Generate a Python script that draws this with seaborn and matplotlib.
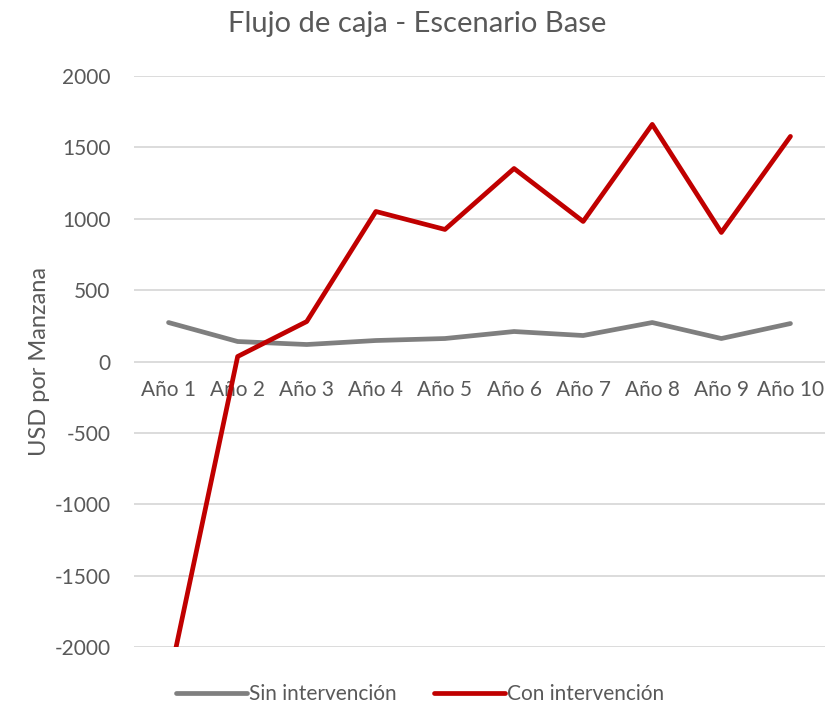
import pandas as pd
import matplotlib.pyplot as plt
import seaborn as sns

# datos
anios = ["Año 1", "Año 2", "Año 3", "Año 4", "Año 5", "Año 6", "Año 7", "Año 8", "Año 9", "Año 10"]
sin_intervencion = [273, 140, 119, 147, 161, 210, 182, 273, 161, 266]
con_intervencion = [-2250, 35, 280, 1051, 925, 1352, 981, 1661, 904, 1577]
series = ["Sin intervención", "Con intervención"]
colores = ["#7F7F7F", "#C00000"]
yticks = [-2000, -1500, -1000, -500, 0, 500, 1000, 1500, 2000]

df = pd.DataFrame({
    "Año": anios * 2,
    "pos": list(range(len(anios))) * 2,
    "valor": sin_intervencion + con_intervencion,
    "serie": [series[0]] * len(anios) + [series[1]] * len(anios),
})

sns.set_style("white")
plt.rcParams['font.family'] = ['Lato', 'DejaVu Sans']

fig = plt.figure(figsize=(8.26, 7.05), dpi=100)
ax = fig.add_axes([134 / 826, 1 - 647 / 705, 691 / 826, 571 / 705])

sns.lineplot(data=df, x="pos", y="valor", hue="serie", palette=colores,
             linewidth=3.4, ax=ax, legend=True)

ax.set_xlim(-0.5, len(anios) - 0.5)
ax.set_ylim(-2000, 2000)
ax.set_yticks(yticks)
ax.set_yticklabels([str(v) for v in yticks])
ax.set_xticks(range(len(anios)))
ax.set_xticklabels(anios)
ax.yaxis.grid(True, color="#D9D9D9", linewidth=1.3)
ax.set_axisbelow(True)
for s in ["top", "right", "left"]:
    ax.spines[s].set_visible(False)
ax.spines["bottom"].set_position(("data", 0))
ax.spines["bottom"].set_visible(False)
ax.tick_params(axis="x", length=0, pad=13, labelsize=15, labelcolor="#595959")
ax.tick_params(axis="y", length=0, pad=17, labelsize=15, labelcolor="#595959")
ax.set_xlabel("")
ax.set_ylabel("USD por Manzana", fontsize=17, color="#595959", labelpad=3)

fig.suptitle("Flujo de caja - Escenario Base", fontsize=21, color="#595959",
             x=417 / 826, y=1 - 24 / 705, va="center")

handles, labels = ax.get_legend_handles_labels()
ax.get_legend().remove()
fig.legend(handles, labels, loc="center", bbox_to_anchor=(420 / 826, 1 - 694 / 705),
           ncol=2, frameon=False, fontsize=15, handlelength=3.4,
           handletextpad=0.1, columnspacing=1.8, labelcolor="#595959",
           borderpad=0.2)

fig.savefig("out.png", dpi=100)
